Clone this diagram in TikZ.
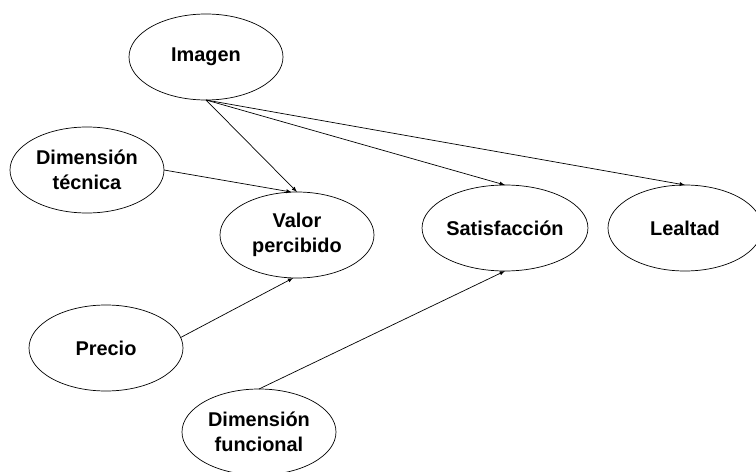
\documentclass[tikz,border=0pt]{standalone}
\usepackage{fontspec}
\setmainfont{Liberation Sans}
\usepackage{tikz}
\usepackage{tkz-graph}
\usetikzlibrary{shapes.geometric}

\begin{document}
\begin{tikzpicture}[scale=1.0]
	\tikzset{VertexStyle/.style={draw, ellipse, line width=0.6pt, inner sep=0pt,
		minimum width=4.62cm, minimum height=2.58cm, align=center,
		font=\bfseries\fontsize{17}{21}\selectfont}}
	\tikzset{EdgeStyle/.style={->, >=latex, line width=0.6pt}}
	\useasboundingbox (0,0) rectangle (22.68,14.13);
	\Vertex[x=6.18,y=12.42,L=Imagen]{Imagen}
	\Vertex[x=2.61,y=9.03,L={Dimensión\\técnica}]{DimTec}
	\Vertex[x=8.91,y=7.08,L={Valor\\percibido}]{Valor}
	\Vertex[x=15.15,y=7.29,L=Satisfacción]{Satisf}
	\Vertex[x=20.55,y=7.29,L=Lealtad]{Lealtad}
	\Vertex[x=3.18,y=3.69,L=Precio]{Precio}
	\Vertex[x=7.77,y=1.17,L={Dimensión\\funcional}]{DimFun}
	\draw[EdgeStyle] (Imagen.south) -- (Valor.north);
	\draw[EdgeStyle] (Imagen.south) -- (Satisf.north);
	\draw[EdgeStyle] (Imagen.south) -- (Lealtad.north);
	\draw[EdgeStyle] (DimTec.east) -- (Valor.97);
	\draw[EdgeStyle] (Precio.8) -- (Valor.265);
	\draw[EdgeStyle] (DimFun.north) -- (Satisf.south);
\end{tikzpicture}
\end{document}
